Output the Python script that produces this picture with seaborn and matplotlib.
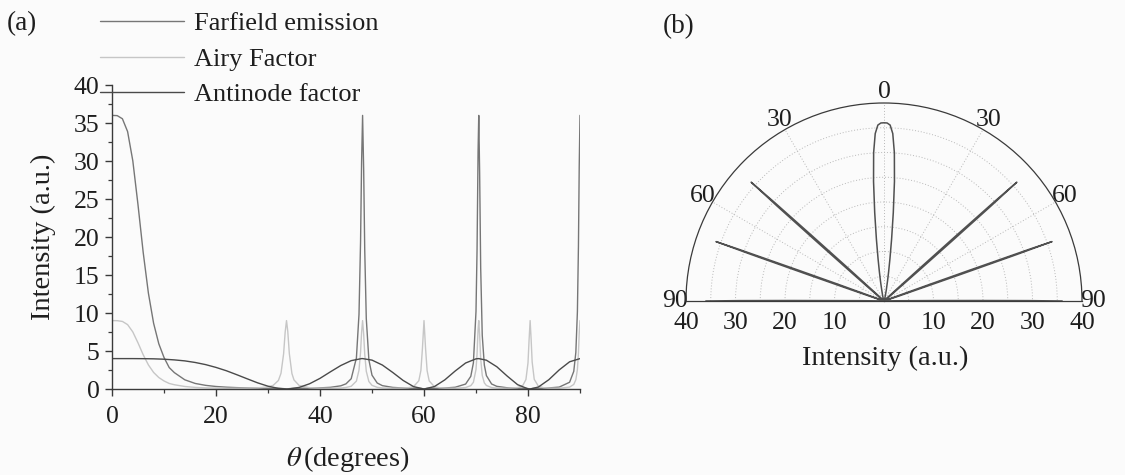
import numpy as np
import pandas as pd
import matplotlib
matplotlib.use("Agg")
import matplotlib.pyplot as plt
import matplotlib.transforms as mtransforms
import seaborn as sns

# ---- data -------------------------------------------------------------
# emission angle grid (degrees) used for the Airy and far-field curves
theta_fine = [0, 1, 2, 3, 4, 5, 6, 7, 8, 9, 10, 11, 12, 14, 16, 18, 20, 22, 24, 26,
              28, 30, 31, 32, 32.5, 33, 33.3, 33.56, 33.8, 34.1, 34.6, 35, 36, 38, 40,
              42, 44, 45, 46, 47, 47.5, 47.8, 48.0, 48.19, 48.4, 48.6, 48.9, 49.4, 50,
              51, 52, 54, 56, 57, 58, 59, 59.4, 59.7, 60, 60.3, 60.6, 61, 62, 63, 64,
              66, 68, 69, 69.5, 70, 70.2, 70.4, 70.53, 70.7, 70.9, 71.2, 71.6, 72, 73,
              74, 76, 78, 79, 79.6, 80, 80.2, 80.41, 80.6, 80.8, 81.2, 82, 83, 84, 86,
              88, 88.8, 89.2, 89.5, 89.7, 89.85, 90]

airy_factor = [9.0, 8.99, 8.89, 8.47, 7.51, 6.07, 4.50, 3.17, 2.18, 1.51, 1.06, 0.73,
               0.56, 0.33, 0.21, 0.15, 0.12, 0.10, 0.10, 0.11, 0.15, 0.28, 0.48, 1.12,
               2.07, 4.62, 7.47, 9.0, 7.60, 4.67, 2.03, 1.19, 0.46, 0.17, 0.10, 0.10,
               0.13, 0.20, 0.36, 1.04, 2.48, 4.86, 7.48, 9.0, 7.20, 4.61, 2.34, 0.98,
               0.48, 0.22, 0.14, 0.10, 0.12, 0.17, 0.32, 1.08, 2.43, 5.35, 9.0, 5.34,
               2.41, 1.06, 0.31, 0.16, 0.11, 0.10, 0.19, 0.44, 0.88, 2.57, 4.57, 7.83,
               9.0, 7.11, 4.01, 1.79, 0.81, 0.46, 0.19, 0.12, 0.10, 0.19, 0.47, 1.24,
               3.44, 6.35, 9.0, 6.56, 3.56, 1.27, 0.37, 0.17, 0.11, 0.10, 0.25, 0.60,
               1.22, 2.56, 4.71, 7.33, 9.0]

farfield = [36.0, 35.97, 35.56, 33.87, 30.03, 24.24, 17.96, 12.61, 8.65, 5.95, 4.15,
            2.82, 2.15, 1.21, 0.73, 0.48, 0.33, 0.24, 0.18, 0.14, 0.12, 0.10, 0.10,
            0.09, 0.07, 0.05, 0.02, 0.0, 0.01, 0.05, 0.07, 0.08, 0.10, 0.11, 0.15,
            0.22, 0.42, 0.68, 1.35, 4.08, 9.83, 19.41, 29.92, 36.0, 28.77, 18.38, 9.27,
            3.83, 1.82, 0.79, 0.44, 0.21, 0.13, 0.11, 0.10, 0.09, 0.07, 0.04, 0.0,
            0.04, 0.07, 0.09, 0.10, 0.11, 0.13, 0.23, 0.65, 1.67, 3.44, 10.23, 18.21,
            31.30, 36.0, 28.42, 15.98, 7.08, 3.16, 1.76, 0.66, 0.35, 0.16, 0.11, 0.10,
            0.08, 0.06, 0.03, 0.0, 0.03, 0.06, 0.08, 0.10, 0.11, 0.14, 0.25, 0.89,
            2.32, 4.81, 10.16, 18.78, 29.29, 36.0]

# coarser grid for the slowly varying antinode factor
theta_coarse = [0, 2, 4, 6, 8, 10, 12, 14, 16, 18, 20, 22, 24, 26, 28, 30, 32, 33.56,
                34, 36, 38, 40, 42, 44, 46, 48, 48.19, 50, 52, 54, 56, 58, 60, 62, 64,
                66, 68, 70, 70.53, 72, 74, 76, 78, 80, 80.41, 82, 84, 86, 88, 90]

antinode_factor = [4.00, 4.00, 4.00, 3.99, 3.97, 3.92, 3.83, 3.70, 3.49, 3.21, 2.84,
                   2.40, 1.88, 1.34, 0.81, 0.37, 0.08, 0.0, 0.01, 0.21, 0.69, 1.40,
                   2.26, 3.09, 3.73, 4.00, 4.00, 3.80, 3.15, 2.17, 1.12, 0.31, 0.0,
                   0.32, 1.20, 2.37, 3.42, 3.97, 4.00, 3.79, 2.93, 1.70, 0.57, 0.02,
                   0.0, 0.26, 1.22, 2.51, 3.58, 4.00]

series_labels = ["Farfield emission", "Airy Factor", "Antinode factor"]
x_ticks = [0, 20, 40, 60, 80]
y_ticks = [0, 5, 10, 15, 20, 25, 30, 35, 40]
polar_angle_ticks = [-90, -60, -30, 0, 30, 60, 90]
polar_angle_labels = ["90", "60", "30", "0", "30", "60", "90"]
polar_r_ticks = [0, 10, 20, 30, 40]

# ---- style --------------------------------------------------------------
sns.set_style("ticks")
plt.rcParams["font.family"] = ["Liberation Serif", "DejaVu Serif"]
plt.rcParams["mathtext.fontset"] = "stix"

W, H = 1125, 475
fig = plt.figure(figsize=(W / 100, H / 100), dpi=100, facecolor="#fbfbfb")

def fx(px):
    return px / W

def fy(py):
    return 1 - py / H

c_far, c_airy, c_anti = "#767676", "#c6c6c6", "#4a4a4a"
axis_col = "#3a3a3a"
txt_col = "#1e1e1e"
fs_tick = 18.5
fs_leg = 19
fs_label = 20.5
fs_panel = 19.5

# ---- (a) intensity versus angle ---------------------------------------
ax = fig.add_axes([fx(112), fy(389), fx(580) - fx(112), fy(85) - fy(389)])
ax.set_facecolor("none")

df_fine = pd.DataFrame({"theta": theta_fine, "far": farfield, "airy": airy_factor})
df_coarse = pd.DataFrame({"theta": theta_coarse, "anti": antinode_factor})

sns.lineplot(data=df_fine, x="theta", y="far", ax=ax, color=c_far, lw=1.0,
             sort=False, estimator=None, label=series_labels[0])
sns.lineplot(data=df_fine, x="theta", y="airy", ax=ax, color=c_airy, lw=1.0,
             sort=False, estimator=None, label=series_labels[1])
sns.lineplot(data=df_coarse, x="theta", y="anti", ax=ax, color=c_anti, lw=1.0,
             sort=False, estimator=None, label=series_labels[2])

ax.set_xlim(0, 90)
ax.set_ylim(0, 40)
ax.set_xticks(x_ticks)
ax.set_xticks([10, 30, 50, 70, 90], minor=True)
ax.set_yticks(y_ticks)
ax.set_yticks(np.arange(2.5, 40, 5), minor=True)
ax.set_xlabel("")
ax.set_ylabel("")
for s in ("top", "right"):
    ax.spines[s].set_visible(False)
for s in ("left", "bottom"):
    ax.spines[s].set_color(axis_col)
    ax.spines[s].set_linewidth(1.0)
ax.tick_params(which="major", direction="out", length=5, width=1.0, color=axis_col,
               labelsize=fs_tick, labelcolor=txt_col)
ax.tick_params(which="minor", direction="out", length=3, width=0.9, color=axis_col)
ax.tick_params(axis="x", pad=7)
ax.tick_params(axis="y", pad=4)

leg = ax.legend(loc="upper left", bbox_to_anchor=(fx(100), fy(12)),
                bbox_transform=fig.transFigure, frameon=False, fontsize=fs_leg,
                handlelength=3.2, handletextpad=0.35, labelspacing=0.45,
                borderpad=0, borderaxespad=0)
for t in leg.get_texts():
    t.set_color(txt_col)

fig.text(fx(43), fy(237), "Intensity (a.u.)", rotation=90, ha="center", va="center",
         fontsize=fs_label, color=txt_col)
fig.text(fx(348), fy(459), r"$\theta\,$(degrees)", ha="center", va="center",
         fontsize=fs_label, color=txt_col)
fig.text(fx(22), fy(24), "(a)", ha="center", va="center", fontsize=fs_panel,
         color=txt_col)

# ---- (b) polar far-field pattern ---------------------------------------
# the half-disc is centred at (cx, cy) with radius R (pixels)
cx, cy, R = 884, 301, 198
pax = fig.add_axes([fx(cx - 2 * R), fy(cy + R / 2), 4 * R / W, 2 * R / H],
                   projection="polar")
pax.set_facecolor("none")
pax.set_theta_zero_location("N")
pax.set_theta_direction(-1)
pax.set_thetamin(-90)
pax.set_thetamax(90)
pax.set_rlim(0, 40)

df_polar = pd.DataFrame({
    "ang": np.deg2rad(np.concatenate([-np.array(theta_fine)[::-1], theta_fine])),
    "r": np.concatenate([np.array(farfield)[::-1], farfield]),
})
sns.lineplot(data=df_polar, x="ang", y="r", ax=pax, color="#505050", lw=1.1,
             sort=False, estimator=None, legend=False)
pax.set_xlabel("")
pax.set_ylabel("")

pax.set_xticks(np.deg2rad(polar_angle_ticks))
pax.set_xticklabels(polar_angle_labels, fontsize=fs_tick, color=txt_col)
pax.set_xticks(np.deg2rad([-75, -45, -15, 15, 45, 75]), minor=True)
pax.tick_params(axis="x", which="both", direction="in", length=5, width=0.9,
                color=axis_col, pad=1)
pax.set_yticks(np.arange(5, 40, 5))
pax.set_yticklabels([])
pax.grid(True, ls=(0, (1, 2)), lw=0.7, color="#b8b8b8")
for name, sp in pax.spines.items():
    sp.set_color(axis_col)
    sp.set_linewidth(0.9)

# radial intensity scale drawn along the baseline on both sides
below = mtransforms.offset_copy(pax.transData, fig=fig, y=-22, units="dots")
for r in polar_r_ticks:
    for side in ((-1, 1) if r > 0 else (1,)):
        pax.text(side * np.pi / 2, r, str(r), transform=below, ha="center",
                 va="center", fontsize=fs_tick, color=txt_col)

fig.text(fx(885), fy(358), "Intensity (a.u.)", ha="center", va="center",
         fontsize=fs_label, color=txt_col)
fig.text(fx(679), fy(27), "(b)", ha="center", va="center", fontsize=fs_panel,
         color=txt_col)

fig.savefig("out.png", dpi=100, facecolor=fig.get_facecolor())
